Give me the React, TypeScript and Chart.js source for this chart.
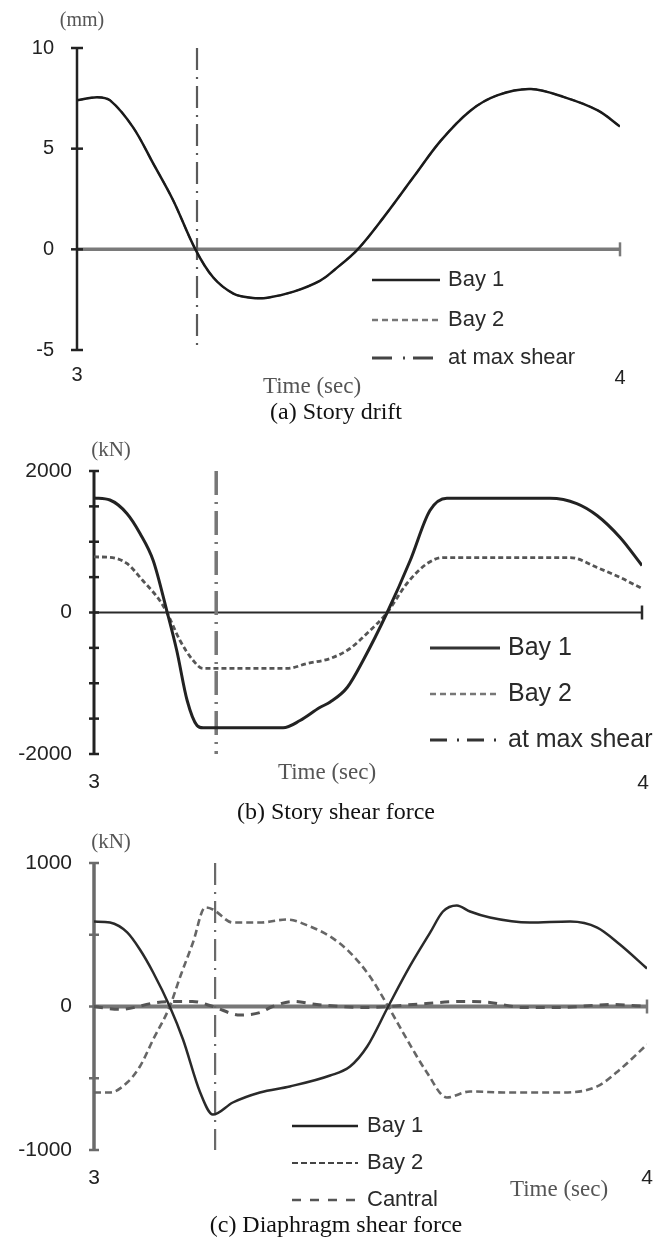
import React, { useEffect, useRef } from "react";
import { Chart, registerables } from "chart.js";
Chart.register(...registerables);

const PAGE_W = 661;
const PAGE_H = 1246;

// ---------- shared ----------
const TIME_RANGE = [3, 4];
const TIME_TICK_LABELS = ["3", "4"];
const TIME_TITLE = "Time (sec)";
const LEGEND_AB = ["Bay 1", "Bay 2", "at max shear"];
const LEGEND_C = ["Bay 1", "Bay 2", "Cantral"];

// ---------- (a) Story drift ----------
const DRIFT_RANGE = [-5, 10];
const DRIFT_TICKS = [10, 5, 0, -5];
const DRIFT_TICK_LABELS = ["10", "5", "0", "-5"];
const driftTime = [3.0, 3.037, 3.061, 3.103, 3.14, 3.177, 3.218, 3.251, 3.288, 3.32, 3.351, 3.399, 3.448, 3.475, 3.517, 3.565, 3.62, 3.67, 3.725, 3.775, 3.836, 3.897, 3.959, 4.0];
const driftBay1 = [7.4, 7.56, 7.4, 6.07, 4.28, 2.44, 0, -1.4, -2.2, -2.4, -2.4, -2.1, -1.55, -1.0, 0, 1.6, 3.6, 5.4, 6.9, 7.66, 7.96, 7.56, 6.9, 6.1];
const driftBay2 = [7.4, 7.56, 7.4, 6.07, 4.28, 2.44, 0, -1.4, -2.2, -2.4, -2.4, -2.1, -1.55, -1.0, 0, 1.6, 3.6, 5.4, 6.9, 7.66, 7.96, 7.56, 6.9, 6.1];
const driftMaxShearTime = 3.221;

// ---------- (b) Story shear force ----------
const SHEAR_RANGE = [-2000, 2000];
const SHEAR_TICKS = [2000, 1500, 1000, 500, 0, -500, -1000, -1500, -2000];
const SHEAR_TICK_LABELS = ["2000", "", "", "", "0", "", "", "", "-2000"];
const shearTime1 = [3.0, 3.029, 3.06, 3.084, 3.108, 3.133, 3.151, 3.17, 3.188, 3.199, 3.345, 3.376, 3.412, 3.431, 3.462, 3.491, 3.535, 3.577, 3.613, 3.644, 3.832, 3.881, 3.918, 3.96, 4.0];
const shearBay1 = [1620, 1590, 1400, 1117, 735, 20, -537, -1244, -1597, -1630, -1630, -1527, -1343, -1265, -1060, -678, 0, 735, 1442, 1615, 1615, 1540, 1371, 1060, 664];
const shearTime2 = [3.0, 3.029, 3.06, 3.089, 3.12, 3.133, 3.157, 3.181, 3.199, 3.352, 3.389, 3.431, 3.467, 3.498, 3.535, 3.571, 3.608, 3.637, 3.869, 3.918, 3.96, 4.0];
const shearBay2 = [785, 780, 693, 452, 170, 0, -396, -678, -791, -791, -721, -650, -509, -297, 0, 410, 693, 777, 777, 636, 495, 339];
const shearMaxShearTime = 3.223;

// ---------- (c) Diaphragm shear force ----------
const DIA_RANGE = [-1000, 1000];
const DIA_TICKS = [1000, 500, 0, -500, -1000];
const DIA_TICK_LABELS = ["1000", "", "0", "", "-1000"];
const diaTime1 = [3.0, 3.029, 3.06, 3.083, 3.107, 3.137, 3.161, 3.192, 3.215, 3.251, 3.3, 3.354, 3.427, 3.463, 3.494, 3.532, 3.571, 3.608, 3.631, 3.656, 3.68, 3.716, 3.788, 3.861, 3.91, 3.951, 4.0];
const diaBay1 = [592, 585, 516, 397, 237, 0, -230, -599, -753, -669, -599, -557, -481, -418, -279, 0, 279, 516, 662, 704, 662, 620, 585, 592, 550, 432, 265];
const diaTime2 = [3.0, 3.029, 3.06, 3.083, 3.107, 3.137, 3.156, 3.179, 3.201, 3.215, 3.251, 3.3, 3.349, 3.391, 3.427, 3.463, 3.499, 3.532, 3.566, 3.602, 3.638, 3.68, 3.74, 3.848, 3.91, 3.951, 4.0];
const diaBay2 = [-599, -599, -530, -418, -230, 0, 209, 446, 690, 676, 585, 585, 606, 557, 488, 376, 209, 0, -230, -460, -634, -592, -599, -599, -557, -439, -265];
const diaTime3 = [3.0, 3.047, 3.114, 3.161, 3.178, 3.215, 3.264, 3.3, 3.323, 3.36, 3.403, 3.486, 3.532, 3.577, 3.667, 3.716, 3.776, 3.837, 3.938, 4.0];
const diaCentral = [0, -20, 28, 35, 35, 0, -60, -42, 0, 35, 14, -7, 0, 14, 35, 28, -7, -7, 14, 0];
const diaMaxShearTime = 3.219;

// ---------- styling ----------
const SANS = '"Liberation Sans", Arial, sans-serif';
const SERIF = '"Liberation Serif", "Times New Roman", serif';
const fs = (px: number) => `${px}px ${SANS}`;
const ff = (px: number) => `${px}px ${SERIF}`;

type LineStyle = { color: string; width: number; dash: number[] };

const STYLE_A = {
  smooth: "tension",
  plot: { left: 77, right: 620, top: 48, bottom: 350 },
  axis: { color: "#222", width: 2.5, tickHalf: 6 },
  zero: { color: "#7a7a7a", width: 3.5, endTick: 7 },
  tickFont: fs(20), tickRight: 54, tickColor: "#222",
  xLabelY: [375, 378], xLabelX: [77, 620],
  unitPos: [82, 21], unitFont: ff(20),
  timePos: [312, 387], timeFont: ff(23),
  captionPos: [336, 413], captionFont: ff(24),
  legend: { x0: 372, x1: 440, textX: 448, rows: [280, 320, 358], font: fs(22), dashdot: [20, 11, 2, 8], dashdotLen: 61 },
  lines: [
    { color: "#1a1a1a", width: 2.5, dash: [] },
    { color: "#666", width: 2, dash: [6, 4] },
    { color: "#5a5a5a", width: 2.2, dash: [22, 7, 2, 7] },
  ] as LineStyle[],
  legendLines: [
    { color: "#222", width: 2.5, dash: [] },
    { color: "#777", width: 2.5, dash: [6, 4] },
    { color: "#444", width: 3, dash: [] },
  ] as LineStyle[],
};

const STYLE_B = {
  smooth: "monotone",
  plot: { left: 94, right: 642, top: 471, bottom: 754 },
  axis: { color: "#222", width: 3, tickHalf: 5 },
  zero: { color: "#2a2a2a", width: 2, endTick: 7 },
  tickFont: fs(21), tickRight: 72, tickColor: "#222",
  xLabelY: [782, 783], xLabelX: [94, 643],
  unitPos: [111, 450], unitFont: ff(21),
  timePos: [327, 773], timeFont: ff(23),
  captionPos: [336, 813], captionFont: ff(24),
  legend: { x0: 430, x1: 500, textX: 508, rows: [648, 694, 740], font: fs(25), dashdot: [17, 10, 2, 8], dashdotLen: 66 },
  lines: [
    { color: "#222", width: 3, dash: [] },
    { color: "#555", width: 2.8, dash: [5, 3] },
    { color: "#777", width: 3.5, dash: [24, 7, 2, 7] },
  ] as LineStyle[],
  legendLines: [
    { color: "#333", width: 3, dash: [] },
    { color: "#777", width: 2.5, dash: [6, 4] },
    { color: "#333", width: 3, dash: [] },
  ] as LineStyle[],
};

const STYLE_C = {
  smooth: "monotone",
  plot: { left: 94, right: 647, top: 863, bottom: 1150 },
  axis: { color: "#6a6a6a", width: 3.5, tickHalf: 5 },
  zero: { color: "#777", width: 4, endTick: 7 },
  tickFont: fs(21), tickRight: 72, tickColor: "#222",
  xLabelY: [1178, 1178], xLabelX: [94, 647],
  unitPos: [111, 842], unitFont: ff(21),
  timePos: [559, 1190], timeFont: ff(23),
  captionPos: [336, 1226], captionFont: ff(24),
  legend: { x0: 292, x1: 358, textX: 367, rows: [1126, 1163, 1200], font: fs(22), dashdot: [] as number[], dashdotLen: 0 },
  lines: [
    { color: "#2a2a2a", width: 2.5, dash: [] },
    { color: "#666", width: 2.6, dash: [7, 4] },
    { color: "#555", width: 3, dash: [9, 7] },
    { color: "#6a6a6a", width: 2.2, dash: [22, 7, 2, 7] },
  ] as LineStyle[],
  legendLines: [
    { color: "#222", width: 2.5, dash: [] },
    { color: "#444", width: 2.2, dash: [6, 3] },
    { color: "#555", width: 2.5, dash: [9, 9] },
  ] as LineStyle[],
};

type Panel = {
  yRange: number[];
  ticks: number[];
  tickLabels: string[];
  unit: string;
  caption: string;
  legendLabels: string[];
  series: { t: number[]; v: number[] }[];
  marker: number;
  style: any;
  lastIsMarkerLegend: boolean;
};

const PANELS: Panel[] = [
  {
    yRange: DRIFT_RANGE, ticks: DRIFT_TICKS, tickLabels: DRIFT_TICK_LABELS,
    unit: "(mm)", caption: "(a) Story drift", legendLabels: LEGEND_AB,
    series: [{ t: driftTime, v: driftBay1 }, { t: driftTime, v: driftBay2 }],
    marker: driftMaxShearTime, style: STYLE_A, lastIsMarkerLegend: true,
  },
  {
    yRange: SHEAR_RANGE, ticks: SHEAR_TICKS, tickLabels: SHEAR_TICK_LABELS,
    unit: "(kN)", caption: "(b) Story shear force", legendLabels: LEGEND_AB,
    series: [{ t: shearTime1, v: shearBay1 }, { t: shearTime2, v: shearBay2 }],
    marker: shearMaxShearTime, style: STYLE_B, lastIsMarkerLegend: true,
  },
  {
    yRange: DIA_RANGE, ticks: DIA_TICKS, tickLabels: DIA_TICK_LABELS,
    unit: "(kN)", caption: "(c) Diaphragm shear force", legendLabels: LEGEND_C,
    series: [{ t: diaTime1, v: diaBay1 }, { t: diaTime2, v: diaBay2 }, { t: diaTime3, v: diaCentral }],
    marker: diaMaxShearTime, style: STYLE_C, lastIsMarkerLegend: false,
  },
];

function text(ctx: CanvasRenderingContext2D, s: string, x: number, y: number, font: string, color: string, align: CanvasTextAlign = "center") {
  ctx.save();
  ctx.font = font;
  ctx.fillStyle = color;
  ctx.textAlign = align;
  ctx.textBaseline = "middle";
  ctx.fillText(s, x, y);
  ctx.restore();
}

function seg(ctx: CanvasRenderingContext2D, x0: number, y0: number, x1: number, y1: number, st: LineStyle) {
  ctx.save();
  ctx.strokeStyle = st.color;
  ctx.lineWidth = st.width;
  ctx.setLineDash(st.dash);
  ctx.lineCap = "butt";
  ctx.beginPath();
  ctx.moveTo(x0, y0);
  ctx.lineTo(x1, y1);
  ctx.stroke();
  ctx.restore();
}

function buildConfig(p: Panel): any {
  const st = p.style;
  const datasets: any[] = p.series.map((s, i) => ({
    label: p.legendLabels[i],
    data: s.t.map((t, j) => ({ x: t, y: s.v[j] })),
    borderColor: st.lines[i].color,
    borderWidth: st.lines[i].width,
    borderDash: st.lines[i].dash,
    pointRadius: 0,
    ...(st.smooth === "monotone" ? { cubicInterpolationMode: "monotone" } : { tension: 0.35 }),
    fill: false,
  }));
  const ms = st.lines[st.lines.length - 1];
  datasets.push({
    label: LEGEND_AB[2],
    data: [{ x: p.marker, y: p.yRange[1] }, { x: p.marker, y: p.yRange[0] }],
    borderColor: ms.color,
    borderWidth: ms.width,
    borderDash: ms.dash,
    pointRadius: 0,
    tension: 0,
    fill: false,
  });

  const decor = {
    id: "decor",
    beforeDatasetsDraw(chart: any) {
      const ctx = chart.ctx as CanvasRenderingContext2D;
      const xs = chart.scales.x, ys = chart.scales.y;
      const x0 = xs.getPixelForValue(TIME_RANGE[0]);
      const x1 = xs.getPixelForValue(TIME_RANGE[1]);
      const yT = ys.getPixelForValue(p.yRange[1]);
      const yB = ys.getPixelForValue(p.yRange[0]);
      const y0 = ys.getPixelForValue(0);
      seg(ctx, x0, y0, x1, y0, { color: st.zero.color, width: st.zero.width, dash: [] });
      seg(ctx, x1, y0 - st.zero.endTick, x1, y0 + st.zero.endTick, { color: st.zero.color, width: 2.5, dash: [] });
      seg(ctx, x0, yT - 1, x0, yB + 1, { color: st.axis.color, width: st.axis.width, dash: [] });
      p.ticks.forEach((v) => {
        const y = ys.getPixelForValue(v);
        seg(ctx, x0 - st.axis.tickHalf, y, x0 + st.axis.tickHalf, y, { color: st.axis.color, width: 2.5, dash: [] });
      });
    },
    afterDatasetsDraw(chart: any) {
      const ctx = chart.ctx as CanvasRenderingContext2D;
      const ys = chart.scales.y;
      p.ticks.forEach((v, i) => {
        const lab = p.tickLabels[i];
        if (lab) text(ctx, lab, st.tickRight, ys.getPixelForValue(v), st.tickFont, st.tickColor, "right");
      });
      TIME_TICK_LABELS.forEach((lab, i) => text(ctx, lab, st.xLabelX[i], st.xLabelY[i], st.tickFont, st.tickColor));
      text(ctx, p.unit, st.unitPos[0], st.unitPos[1], st.unitFont, "#555");
      text(ctx, TIME_TITLE, st.timePos[0], st.timePos[1], st.timeFont, "#555");
      text(ctx, p.caption, st.captionPos[0], st.captionPos[1], st.captionFont, "#111");
      const L = st.legend;
      p.legendLabels.forEach((lab, i) => {
        const y = L.rows[i];
        const ls = st.legendLines[i];
        if (i === 2 && p.lastIsMarkerLegend) {
          seg(ctx, L.x0, y, L.x0 + L.dashdotLen, y, { color: ls.color, width: ls.width, dash: L.dashdot });
        } else {
          seg(ctx, L.x0, y, L.x1, y, ls);
        }
        text(ctx, lab, L.textX, y, L.font, "#2a2a2a", "left");
      });
    },
  };

  return {
    type: "line",
    data: { datasets },
    options: {
      responsive: false,
      animation: false,
      maintainAspectRatio: false,
      devicePixelRatio: 1,
      layout: {
        padding: {
          left: st.plot.left,
          right: PAGE_W - st.plot.right,
          top: st.plot.top,
          bottom: PAGE_H - st.plot.bottom,
        },
      },
      plugins: { legend: { display: false }, tooltip: { enabled: false } },
      events: [],
      scales: {
        x: { type: "linear", min: TIME_RANGE[0], max: TIME_RANGE[1], display: false },
        y: { type: "linear", min: p.yRange[0], max: p.yRange[1], display: false },
      },
    },
    plugins: [decor],
  };
}

function PanelCanvas({ panel }: { panel: Panel }) {
  const ref = useRef<HTMLCanvasElement | null>(null);
  useEffect(() => {
    if (!ref.current) return;
    const chart = new Chart(ref.current, buildConfig(panel));
    return () => chart.destroy();
  }, [panel]);
  return (
    <canvas
      ref={ref}
      width={PAGE_W}
      height={PAGE_H}
      style={{ position: "absolute", left: 0, top: 0, width: PAGE_W, height: PAGE_H }}
    />
  );
}

export default function App() {
  return (
    <div style={{ position: "absolute", left: 0, top: 0, width: PAGE_W, height: PAGE_H, background: "#fff", overflow: "hidden" }}>
      {PANELS.map((p, i) => (
        <PanelCanvas key={i} panel={p} />
      ))}
    </div>
  );
}
